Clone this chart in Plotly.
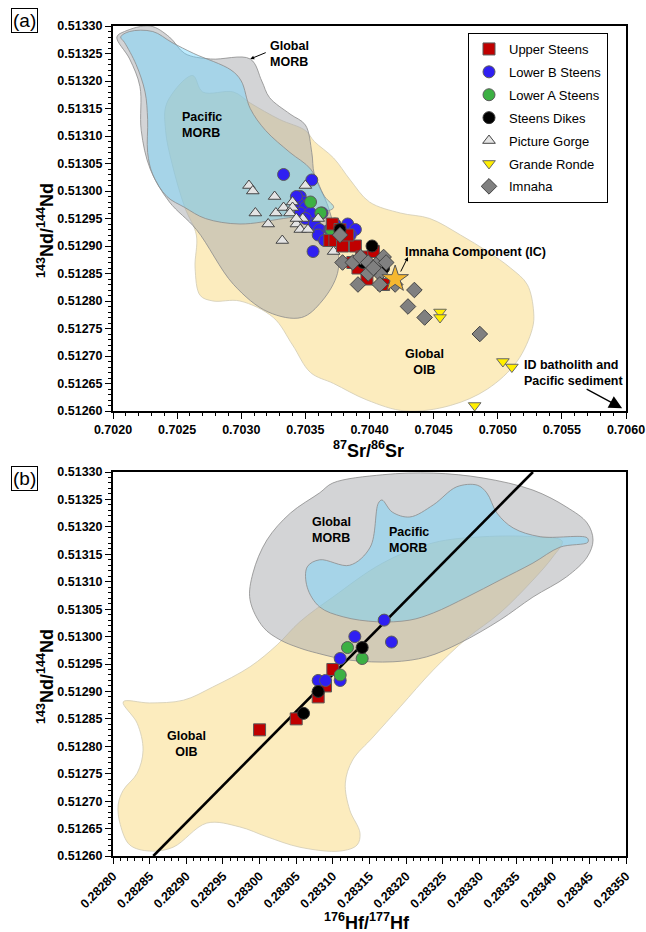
import plotly.graph_objects as go

# ---------------- Panel (a): 87Sr/86Sr vs 143Nd/144Nd ----------------
upper_a_sr = [0.70371, 0.70377, 0.70369, 0.70373, 0.70379, 0.70389, 0.70403, 0.70387, 0.70391, 0.70398, 0.70411, 0.70404, 0.70394, 0.70383]
upper_a_nd = [0.51294, 0.51293, 0.51291, 0.51291, 0.51290, 0.51290, 0.51289, 0.51287, 0.51286, 0.51284, 0.51283, 0.51286, 0.51288, 0.51292]

lowerb_a_sr = [0.70333, 0.70355, 0.70346, 0.70348, 0.70344, 0.70350, 0.70346, 0.70354, 0.70350, 0.70357, 0.70361, 0.70360, 0.70365, 0.70356, 0.70383, 0.70389, 0.70385, 0.70373, 0.70369, 0.70363, 0.70343]
lowerb_a_nd = [0.51303, 0.51302, 0.51299, 0.51298, 0.51298, 0.51297, 0.51296, 0.51296, 0.51295, 0.51294, 0.51293, 0.51292, 0.51291, 0.51289, 0.51294, 0.51293, 0.51292, 0.51294, 0.51293, 0.51296, 0.51299]

lowera_a_sr = [0.70354, 0.70362, 0.70370]
lowera_a_nd = [0.51298, 0.51296, 0.51293]

dikes_a_sr = [0.70402, 0.70377, 0.70395, 0.70411]
dikes_a_nd = [0.51290, 0.51293, 0.51287, 0.51286]

pgorge_sr = [0.70306, 0.70309, 0.70326, 0.70311, 0.70327, 0.70333, 0.70340, 0.70340, 0.70350, 0.70348, 0.70343, 0.70321, 0.70346, 0.70352, 0.70332, 0.70360, 0.70372, 0.70338, 0.70343]
pgorge_nd = [0.51301, 0.51300, 0.51299, 0.51296, 0.51296, 0.51297, 0.51298, 0.51297, 0.51301, 0.51295, 0.51294, 0.51294, 0.51293, 0.51293, 0.51291, 0.51295, 0.51289, 0.51296, 0.51295]

gronde_sr = [0.70455, 0.70455, 0.70504, 0.70511, 0.70482]
gronde_nd = [0.51278, 0.51277, 0.51269, 0.51268, 0.51261]

imnaha_sr = [0.70377, 0.70379, 0.70387, 0.70393, 0.70399, 0.70407, 0.70411, 0.70408, 0.70399, 0.70391, 0.70408, 0.70420, 0.70435, 0.70430, 0.70443, 0.70486, 0.70403, 0.70413]
imnaha_nd = [0.51292, 0.51287, 0.51287, 0.51288, 0.51287, 0.51287, 0.51288, 0.51285, 0.51285, 0.51283, 0.51283, 0.51283, 0.51282, 0.51279, 0.51277, 0.51274, 0.51286, 0.51287]

ic_sr = [0.70420]
ic_nd = [0.51284]

# Field outlines, panel (a)
morb_a_sr = [0.70203, 0.70209, 0.70229, 0.70244, 0.70256, 0.70276, 0.70307, 0.70316, 0.70322, 0.70338, 0.70350, 0.70355, 0.70357, 0.70368, 0.70375, 0.70375, 0.70363, 0.70347, 0.70321, 0.70294, 0.70265, 0.70244, 0.70229, 0.70222, 0.70221, 0.70213]
morb_a_nd = [0.51328, 0.51329, 0.51330, 0.51328, 0.51325, 0.51324, 0.51324, 0.51320, 0.51317, 0.51314, 0.51312, 0.51307, 0.51303, 0.51297, 0.51290, 0.51285, 0.51280, 0.51277, 0.51278, 0.51283, 0.51293, 0.51298, 0.51304, 0.51311, 0.51319, 0.51324]

pmorb_a_sr = [0.70206, 0.70213, 0.70231, 0.70246, 0.70263, 0.70292, 0.70300, 0.70307, 0.70319, 0.70338, 0.70354, 0.70365, 0.70372, 0.70361, 0.70333, 0.70299, 0.70272, 0.70256, 0.70242, 0.70231, 0.70227, 0.70227, 0.70225, 0.70218, 0.70209]
pmorb_a_nd = [0.51328, 0.51329, 0.51329, 0.51327, 0.51325, 0.51322, 0.51320, 0.51315, 0.51311, 0.51307, 0.51304, 0.51299, 0.51297, 0.51296, 0.51295, 0.51294, 0.51295, 0.51297, 0.51299, 0.51303, 0.51307, 0.51313, 0.51318, 0.51323, 0.51327]

oib_a_sr = [0.70262, 0.70270, 0.70294, 0.70307, 0.70330, 0.70350, 0.70357, 0.70372, 0.70385, 0.70400, 0.70424, 0.70447, 0.70471, 0.70492, 0.70510, 0.70523, 0.70528, 0.70527, 0.70515, 0.70492, 0.70463, 0.70428, 0.70398, 0.70372, 0.70354, 0.70340, 0.70325, 0.70299, 0.70278, 0.70268, 0.70264, 0.70265, 0.70256, 0.70246, 0.70241, 0.70242]
oib_a_nd = [0.51321, 0.51318, 0.51318, 0.51316, 0.51313, 0.51311, 0.51309, 0.51306, 0.51302, 0.51298, 0.51296, 0.51295, 0.51292, 0.51289, 0.51286, 0.51283, 0.51278, 0.51275, 0.51269, 0.51264, 0.51261, 0.51260, 0.51262, 0.51265, 0.51267, 0.51272, 0.51277, 0.51280, 0.51280, 0.51281, 0.51286, 0.51292, 0.51297, 0.51305, 0.51311, 0.51316]

# ---------------- Panel (b): 176Hf/177Hf vs 143Nd/144Nd ----------------
upper_b_hf = [0.28310, 0.28309, 0.28308, 0.28305, 0.28300]
upper_b_nd = [0.51294, 0.51291, 0.51289, 0.51285, 0.51283]

lowerb_b_hf = [0.28317, 0.28318, 0.28313, 0.28311, 0.28308, 0.28311, 0.28309]
lowerb_b_nd = [0.51303, 0.51299, 0.51300, 0.51296, 0.51292, 0.51292, 0.51292]

lowera_b_hf = [0.28312, 0.28314, 0.28311]
lowera_b_nd = [0.51298, 0.51296, 0.51293]

dikes_b_hf = [0.28314, 0.28308, 0.28306]
dikes_b_nd = [0.51298, 0.51290, 0.51286]

# Hf-Nd array through the Steens data
hf_line_x = [0.282855, 0.283373]
hf_line_y = [0.51260, 0.51330]

morb_b_hf = [0.282987, 0.282991, 0.283010, 0.283042, 0.283082, 0.283100, 0.283168, 0.283237, 0.283305, 0.283373, 0.283419, 0.283447, 0.283455, 0.283447, 0.283419, 0.283373, 0.283328, 0.283273, 0.283228, 0.283182, 0.283123, 0.283078, 0.283055, 0.283028, 0.283005]
morb_b_nd = [0.513067, 0.513116, 0.513176, 0.513225, 0.513262, 0.513280, 0.513295, 0.513298, 0.513289, 0.513267, 0.513236, 0.513207, 0.513176, 0.513145, 0.513109, 0.513072, 0.513030, 0.512988, 0.512963, 0.512954, 0.512957, 0.512970, 0.512979, 0.512994, 0.513017]

pmorb_b_hf = [0.283065, 0.283082, 0.283123, 0.283151, 0.283162, 0.283167, 0.283181, 0.283205, 0.283237, 0.283269, 0.283297, 0.283310, 0.283324, 0.283346, 0.283383, 0.283447, 0.283448, 0.283410, 0.283373, 0.283328, 0.283283, 0.283237, 0.283205, 0.283160, 0.283114, 0.283082, 0.283065]
pmorb_b_nd = [0.513127, 0.513140, 0.513130, 0.513163, 0.513243, 0.513249, 0.513227, 0.513218, 0.513240, 0.513273, 0.513276, 0.513262, 0.513225, 0.513198, 0.513182, 0.513180, 0.513172, 0.513163, 0.513134, 0.513103, 0.513072, 0.513043, 0.513030, 0.513027, 0.513036, 0.513054, 0.513090]

oib_b_hf = [0.283024, 0.283055, 0.283100, 0.283168, 0.283237, 0.283305, 0.283373, 0.283413, 0.283400, 0.283373, 0.283328, 0.283283, 0.283237, 0.283192, 0.283155, 0.283127, 0.283117, 0.283123, 0.283137, 0.283133, 0.283110, 0.283055, 0.283010, 0.282973, 0.282928, 0.282882, 0.282850, 0.282823, 0.282810, 0.282807, 0.282814, 0.282833, 0.282841, 0.282833, 0.282814, 0.282850, 0.282896, 0.282936, 0.282987]
oib_b_nd = [0.512985, 0.513027, 0.513072, 0.513134, 0.513171, 0.513182, 0.513182, 0.513174, 0.513145, 0.513103, 0.513043, 0.512997, 0.512939, 0.512872, 0.512817, 0.512775, 0.512733, 0.512684, 0.512642, 0.512620, 0.512609, 0.512616, 0.512635, 0.512653, 0.512660, 0.512616, 0.512609, 0.512620, 0.512657, 0.512693, 0.512720, 0.512751, 0.512793, 0.512842, 0.512881, 0.512879, 0.512884, 0.512908, 0.512945]

# ---------------- styling ----------------
FONT = "Liberation Sans, Arial, Helvetica, sans-serif"
OIB_FILL = "#fcecbe"
MORB_FILL = "rgba(167,169,173,0.5)"
PMORB_FILL = "rgba(111,212,254,0.45)"
EDGE = "#8c8c8c"

series_style = {
    "Upper Steens": dict(symbol="square", color="#c00000", size=12, line="#5a5a5a", rank=1),
    "Lower B Steens": dict(symbol="circle", color="#2f1ff2", size=12, line="#5a5a5a", rank=2),
    "Lower A Steens": dict(symbol="circle", color="#3cb043", size=12, line="#5a5a5a", rank=3),
    "Steens Dikes": dict(symbol="circle", color="#000000", size=12, line="#333333", rank=4),
    "Picture Gorge": dict(symbol="triangle-up", color="#e4e4e4", size=11, line="#444444", rank=5),
    "Grande Ronde": dict(symbol="triangle-down", color="#ffee00", size=11, line="#666666", rank=6),
    "Imnaha": dict(symbol="diamond", color="#808080", size=12, line="#444444", rank=7),
}

fig = go.Figure()


def closed(xs, ys):
    return list(xs) + [xs[0]], list(ys) + [ys[0]]


def field(xs, ys, fill, edge, xa, ya):
    cx, cy = closed(xs, ys)
    fig.add_trace(go.Scatter(
        x=cx, y=cy, mode="lines", fill="toself", fillcolor=fill,
        line=dict(color=edge, width=0.8, shape="spline", smoothing=1.0),
        hoverinfo="skip", showlegend=False, xaxis=xa, yaxis=ya))


def points(name, xs, ys, xa, ya, legend):
    s = series_style[name]
    fig.add_trace(go.Scatter(
        x=xs, y=ys, mode="markers", name=name, legendgroup=name,
        legendrank=s["rank"], showlegend=legend,
        marker=dict(symbol=s["symbol"], color=s["color"], size=s["size"],
                    line=dict(color=s["line"], width=1)),
        xaxis=xa, yaxis=ya))


# fields: OIB underneath, MORB fields translucent above
field(oib_a_sr, oib_a_nd, OIB_FILL, "#d2cbb5", "x", "y")
field(morb_a_sr, morb_a_nd, MORB_FILL, EDGE, "x", "y")
field(pmorb_a_sr, pmorb_a_nd, PMORB_FILL, EDGE, "x", "y")

field(oib_b_hf, oib_b_nd, OIB_FILL, "#d2cbb5", "x2", "y2")
field(morb_b_hf, morb_b_nd, MORB_FILL, EDGE, "x2", "y2")
field(pmorb_b_hf, pmorb_b_nd, PMORB_FILL, EDGE, "x2", "y2")

# regression line in panel (b)
fig.add_trace(go.Scatter(x=hf_line_x, y=hf_line_y, mode="lines",
                         line=dict(color="black", width=2.6),
                         hoverinfo="skip", showlegend=False, xaxis="x2", yaxis="y2"))

# panel (a) samples
points("Lower B Steens", lowerb_a_sr, lowerb_a_nd, "x", "y", True)
points("Lower A Steens", lowera_a_sr, lowera_a_nd, "x", "y", True)
points("Picture Gorge", pgorge_sr, pgorge_nd, "x", "y", True)
points("Upper Steens", upper_a_sr, upper_a_nd, "x", "y", True)
points("Steens Dikes", dikes_a_sr, dikes_a_nd, "x", "y", True)
points("Imnaha", imnaha_sr, imnaha_nd, "x", "y", True)
points("Grande Ronde", gronde_sr, gronde_nd, "x", "y", True)
fig.add_trace(go.Scatter(x=ic_sr, y=ic_nd, mode="markers", showlegend=False,
                         marker=dict(symbol="star", size=20, color="#f6b830",
                                     line=dict(color="#555555", width=1)),
                         xaxis="x", yaxis="y"))

# panel (b) samples
points("Upper Steens", upper_b_hf, upper_b_nd, "x2", "y2", False)
points("Lower B Steens", lowerb_b_hf, lowerb_b_nd, "x2", "y2", False)
points("Lower A Steens", lowera_b_hf, lowera_b_nd, "x2", "y2", False)
points("Steens Dikes", dikes_b_hf, dikes_b_nd, "x2", "y2", False)

tick_font = dict(family=FONT, size=12.5, color="black", weight="bold")


def axis_common():
    return dict(showline=True, linecolor="black", linewidth=2, mirror=True,
                ticks="outside", ticklen=6, tickwidth=1.2, tickcolor="black",
                showgrid=False, zeroline=False, tickfont=tick_font, fixedrange=True,
                automargin=False)


x_dom = [113 / 646, 626 / 646]
ya_dom = [1 - 411 / 932, 1 - 26 / 932]
yb_dom = [1 - 856 / 932, 1 - 472 / 932]

fig.update_layout(
    width=646, height=932, margin=dict(l=0, r=0, t=0, b=0, autoexpand=False),
    paper_bgcolor="white", plot_bgcolor="white",
    font=dict(family=FONT, color="black"),
    xaxis=dict(axis_common(), domain=x_dom, anchor="y", range=[0.70199999, 0.70600001],
               tick0=0.7020, dtick=0.0005, tickformat=".4f",
               minor=dict(ticks="outside", ticklen=3, tickcolor="black", dtick=0.0001, tick0=0.7020)),
    yaxis=dict(axis_common(), domain=ya_dom, anchor="x", range=[0.512599999, 0.513300001],
               tick0=0.5126, dtick=0.00005, tickformat=".5f",
               minor=dict(ticks="outside", ticklen=3, tickcolor="black", dtick=0.00001, tick0=0.5126)),
    xaxis2=dict(axis_common(), domain=x_dom, anchor="y2", range=[0.282799999, 0.283500001],
                tick0=0.2828, dtick=0.00005, tickformat=".5f", tickangle=-45,
                minor=dict(ticks="outside", ticklen=3, tickcolor="black", dtick=0.00001, tick0=0.2828)),
    yaxis2=dict(axis_common(), domain=yb_dom, anchor="x2", range=[0.512599999, 0.513300001],
                tick0=0.5126, dtick=0.00005, tickformat=".5f",
                minor=dict(ticks="outside", ticklen=3, tickcolor="black", dtick=0.00001, tick0=0.5126)),
    legend=dict(x=468 / 646, y=1 - 33 / 932, xanchor="left", yanchor="top",
                bgcolor="white", bordercolor="black", borderwidth=1,
                font=dict(family=FONT, size=13, color="black"),
                tracegroupgap=3, itemsizing="trace"),
)

label_font = dict(family=FONT, size=12.5, color="black")
ann = []


def text(x, y, s, xa, ya, xanchor="left", align="left"):
    ann.append(dict(x=x, y=y, xref=xa, yref=ya, text=s, showarrow=False,
                    xanchor=xanchor, yanchor="middle", align=align, font=label_font))


# field labels, panel (a)
text(0.70321, 0.51325, "<b>Global<br>MORB</b>", "x", "y")
text(0.70252, 0.51312, "<b>Pacific<br>MORB</b>", "x", "y")
text(0.70443, 0.51269, "<b>Global<br>OIB</b>", "x", "y", "center", "center")
text(0.70426, 0.51289, "<b>Imnaha Component (IC)</b>", "x", "y")
text(0.70519, 0.51267, "<b>ID batholith and<br>Pacific sediment</b>", "x", "y")

# field labels, panel (b)
text(0.283069, 0.513194, "<b>Global<br>MORB</b>", "x2", "y2")
text(0.283174, 0.513176, "<b>Pacific<br>MORB</b>", "x2", "y2")
text(0.282900, 0.512804, "<b>Global<br>OIB</b>", "x2", "y2", "center", "center")

# arrows
ann.append(dict(x=0.70307, y=0.51324, xref="x", yref="y", ax=17, ay=-7, text="",
                showarrow=True, arrowhead=2, arrowsize=0.8, arrowwidth=1, arrowcolor="black"))
ann.append(dict(x=0.70430, y=0.51288, xref="x", yref="y", ax=-8, ay=16, text="",
                showarrow=True, arrowhead=2, arrowsize=0.8, arrowwidth=1, arrowcolor="black"))
ann.append(dict(x=0.70597, y=0.512605, xref="x", yref="y", ax=-37, ay=-20, text="",
                showarrow=True, arrowhead=2, arrowsize=2, arrowwidth=1.3, arrowcolor="black"))

# axis titles
title_font = dict(family=FONT, size=18, color="black")
ann.append(dict(x=368 / 646, y=1 - 449 / 932, xref="paper", yref="paper", showarrow=False,
                text="<b><sup>87</sup>Sr/<sup>86</sup>Sr</b>", font=title_font,
                xanchor="center", yanchor="middle"))
ann.append(dict(x=367 / 646, y=1 - 921 / 932, xref="paper", yref="paper", showarrow=False,
                text="<b><sup>176</sup>Hf/<sup>177</sup>Hf</b>", font=title_font,
                xanchor="center", yanchor="middle"))
for yc in (231, 677):
    ann.append(dict(x=45 / 646, y=1 - yc / 932, xref="paper", yref="paper", showarrow=False,
                    text="<b><sup>143</sup>Nd/<sup>144</sup>Nd</b>", font=title_font,
                    textangle=-90, xanchor="center", yanchor="middle"))

# panel tags
for tag, yc in (("(a)", 20.5), ("(b)", 478)):
    ann.append(dict(x=24 / 646, y=1 - yc / 932, xref="paper", yref="paper", showarrow=False,
                    text=tag, font=dict(family=FONT, size=19, color="black"),
                    bordercolor="black", borderwidth=1, borderpad=1,
                    xanchor="center", yanchor="middle"))

fig.update_layout(annotations=ann)
fig.write_html("out.html")
